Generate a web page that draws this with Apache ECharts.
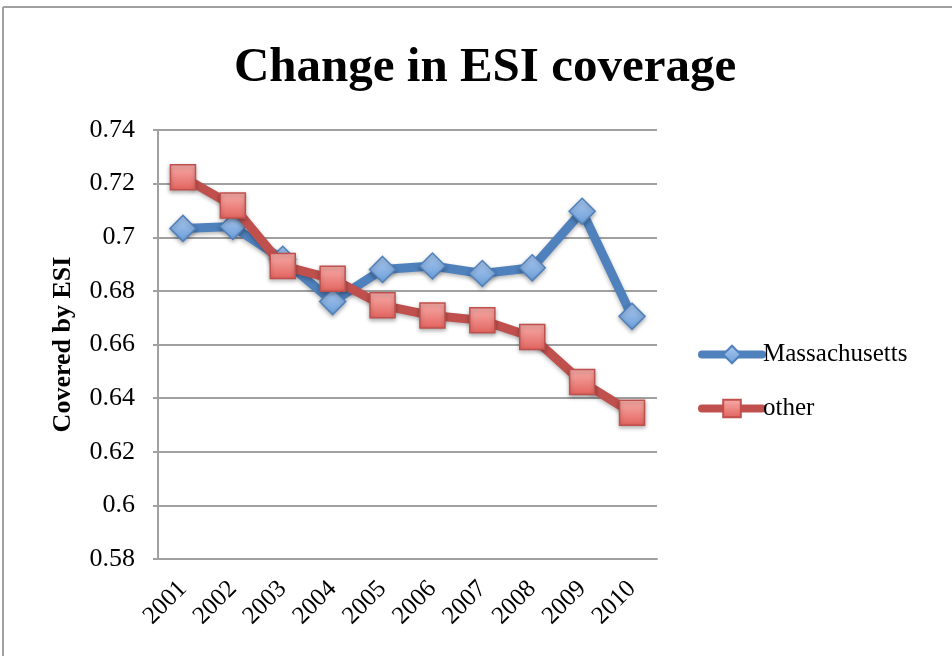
<!DOCTYPE html>
<html>
<head>
<meta charset="utf-8">
<script src="https://cdn.jsdelivr.net/npm/echarts@6/dist/echarts.min.js"></script>
<style>
html,body{margin:0;padding:0;background:#fff;}
#chart{width:952px;height:656px;}
</style>
</head>
<body>
<div id="chart"></div>
<script>
const years = ['2001','2002','2003','2004','2005','2006','2007','2008','2009','2010'];
const massachusetts = [0.7033, 0.7040, 0.6918, 0.6760, 0.6880, 0.6893, 0.6865, 0.6886, 0.7097, 0.6705];
const other = [0.7224, 0.7118, 0.6893, 0.6845, 0.6746, 0.6708, 0.6690, 0.6628, 0.6460, 0.6345];
const yTicks = { min: 0.58, max: 0.74, interval: 0.02 };

const FONT = '"Liberation Serif", "DejaVu Serif", serif';
const chart = echarts.init(document.getElementById('chart'), null, {renderer: 'canvas'});

const blueMarker = new echarts.graphic.LinearGradient(0, 0, 0, 1, [
  {offset: 0, color: '#acc9f0'}, {offset: 1, color: '#6c9fd9'}
]);
const redMarker = new echarts.graphic.LinearGradient(0, 0, 0, 1, [
  {offset: 0, color: '#f8aeaa'}, {offset: 1, color: '#e2625d'}
]);

chart.setOption({
  backgroundColor: '#ffffff',
  animation: false,
  graphic: [
    {type: 'line', shape: {x1: 3, y1: 7, x2: 952, y2: 7}, style: {stroke: '#a0a0a0', lineWidth: 2}},
    {type: 'line', shape: {x1: 3, y1: 7, x2: 3, y2: 656}, style: {stroke: '#a0a0a0', lineWidth: 2}}
  ],
  title: {
    text: 'Change in ESI coverage',
    left: 480, top: 39, textAlign: 'center',
    textStyle: {fontFamily: FONT, fontWeight: 'bold', fontSize: 49, color: '#000'}
  },
  legend: {
    orient: 'vertical',
    left: 693, top: 337,
    itemWidth: 60, itemHeight: 22, itemGap: 29,
    lineStyle: {width: 8, cap: 'round'},
    textStyle: {fontFamily: FONT, fontSize: 25, color: '#000', padding: [0,0,0,-4]},
    data: ['Massachusetts', 'other']
  },
  grid: {left: 158, right: 295, top: 130, bottom: 97, containLabel: false},
  xAxis: {
    type: 'category',
    data: years,
    boundaryGap: true,
    axisLine: {show: true, lineStyle: {color: '#a0a0a0', width: 2}},
    axisTick: {show: false},
    axisLabel: {rotate: 45, margin: 26, fontFamily: FONT, fontSize: 25, color: '#000'}
  },
  yAxis: {
    type: 'value',
    min: yTicks.min, max: yTicks.max, interval: yTicks.interval,
    name: 'Covered by ESI',
    nameLocation: 'middle',
    nameRotate: 90,
    nameGap: 82,
    nameTextStyle: {fontFamily: FONT, fontWeight: 'bold', fontSize: 26, color: '#000'},
    axisLine: {show: true, lineStyle: {color: '#a0a0a0', width: 2}},
    axisTick: {show: true, length: 5, lineStyle: {color: '#a0a0a0', width: 2}},
    splitLine: {show: true, lineStyle: {color: '#a0a0a0', width: 2}},
    axisLabel: {
      margin: 23, fontFamily: FONT, fontSize: 26, color: '#000',
      formatter: function (v) { return String(parseFloat(v.toFixed(2))); }
    }
  },
  series: [
    {
      name: 'Massachusetts', type: 'line', data: massachusetts,
      symbol: 'diamond', symbolSize: 26,
      lineStyle: {color: '#4f81bd', width: 9, shadowColor: 'rgba(0,0,0,0.3)', shadowBlur: 4, shadowOffsetY: 2},
      itemStyle: {color: blueMarker, borderColor: '#4f81bd', borderWidth: 1.5, shadowColor: 'rgba(0,0,0,0.3)', shadowBlur: 4, shadowOffsetY: 2},
      z: 2
    },
    {
      name: 'other', type: 'line', data: other,
      symbol: 'rect', symbolSize: 25,
      lineStyle: {color: '#c0504d', width: 9, shadowColor: 'rgba(0,0,0,0.3)', shadowBlur: 4, shadowOffsetY: 2},
      itemStyle: {color: redMarker, borderColor: '#c0504d', borderWidth: 1.5, shadowColor: 'rgba(0,0,0,0.3)', shadowBlur: 4, shadowOffsetY: 2},
      z: 3
    }
  ]
});
</script>
</body>
</html>
